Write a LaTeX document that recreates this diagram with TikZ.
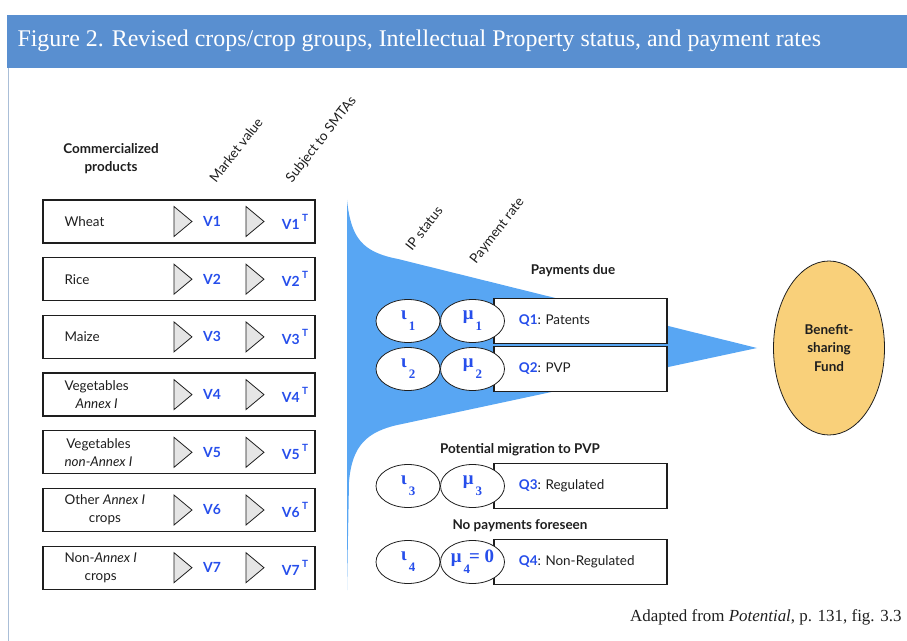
\documentclass[tikz,border=0pt]{standalone}
\usepackage{fontspec}
\setmainfont{Liberation Serif}
\newfontfamily\gill{Lato}
\usetikzlibrary{positioning,shapes.geometric}

\definecolor{barblue}{RGB}{89,143,208}
\definecolor{funnelblue}{RGB}{88,166,243}
\definecolor{valblue}{RGB}{38,78,235}
\definecolor{fundfill}{RGB}{249,208,122}
\definecolor{framegray}{RGB}{170,190,215}
\definecolor{ink}{RGB}{30,30,30}

\newcommand{\lowsub}[1]{\raisebox{-1.3ex}{\fontsize{13}{13}\selectfont\,#1}}

\begin{document}
\begin{tikzpicture}[
x=1bp, y=-1bp,
font=\gill\fontsize{13.5}{18}\selectfont,
text=ink,
cropbox/.style={
draw=ink,
line width=1.3pt,
minimum width=272bp,
minimum height=43bp,
inner sep=0pt
},
tri/.style={
draw=ink,
thick,
fill=gray!20,
isosceles triangle,
isosceles triangle stretches,
minimum width=30bp,
minimum height=18bp,
inner sep=0pt
},
val/.style={
text=valblue,
font=\gill\bfseries\fontsize{14}{16}\selectfont
},
head/.style={
align=center,
font=\gill\bfseries\fontsize{13.5}{18}\selectfont
},
slant/.style={
rotate=52,
anchor=base west,
font=\gill\fontsize{13.5}{15}\selectfont
},
qbox/.style={
draw=ink,
line width=1.2pt,
fill=white,
minimum width=173bp,
minimum height=45bp,
inner sep=0pt
},
oval/.style={
draw=ink,
thick,
fill=white,
ellipse,
minimum width=64bp,
minimum height=43bp,
inner sep=0pt,
text=valblue,
font=\rmfamily\bfseries\fontsize{19}{20}\selectfont
}
]
\useasboundingbox (0,0) rectangle (907,641);

%%%%%%%%%%%%%%%%%%%%%%%%%%%%%%%%%%%%%%%%%%%%%
% Title bar and frame
%%%%%%%%%%%%%%%%%%%%%%%%%%%%%%%%%%%%%%%%%%%%%

\fill[barblue] (7,15) rectangle (907,68);
\draw[framegray] (8,68) -- (8,641);

\node[anchor=west, text=white, font=\rmfamily\fontsize{24}{26}\selectfont] (title)
at (14,41) {Figure 2. Revised crops/crop groups, Intellectual Property status, and payment rates};

%%%%%%%%%%%%%%%%%%%%%%%%%%%%%%%%%%%%%%%%%%%%%
% Funnel
%%%%%%%%%%%%%%%%%%%%%%%%%%%%%%%%%%%%%%%%%%%%%

\fill[funnelblue] (347,200) .. controls (351,238) and (362,252) .. (398,259)
-- (757,348) -- (402,424)
.. controls (366,431) and (352,446) .. (349,482) -- (347,590) -- cycle;

%%%%%%%%%%%%%%%%%%%%%%%%%%%%%%%%%%%%%%%%%%%%%
% Crops
%%%%%%%%%%%%%%%%%%%%%%%%%%%%%%%%%%%%%%%%%%%%%

\node[head] (prod) at (111,159) {Commercialized\\products};
\node[slant] (mkt) at (214,186) {Market value};
\node[slant] (smta) at (290,186) {Subject to SMTAs};

\foreach \i/\lab [evaluate=\i as \yy using 221.5+(\i-1)*57.7] in
{1/{Wheat},
2/{Rice},
3/{Maize},
4/{Vegetables\\\textit{Annex I}},
5/{Vegetables\\\textit{non-Annex I}},
6/{Other \textit{Annex I}\\crops},
7/{Non-\textit{Annex I}\\crops}}
{
\node[cropbox] (c\i) at (179,\yy) {};
\node[anchor=west, align=center] (n\i) at (61,\yy) {\lab};
\node[tri] (m\i) at (181,\yy) {};
\node[val] (v\i) at (212,\yy) {V\i};
\node[tri] (s\i) at (253,\yy) {};
\node[val] (t\i) at (295,\yy) {V\i\,\raisebox{1.1ex}{\fontsize{10}{10}\selectfont T}};
}

%%%%%%%%%%%%%%%%%%%%%%%%%%%%%%%%%%%%%%%%%%%%%
% IP status and payment rate
%%%%%%%%%%%%%%%%%%%%%%%%%%%%%%%%%%%%%%%%%%%%%

\node[slant] (ip) at (410,254) {IP status};
\node[slant] (rate) at (474,267) {Payment rate};
\node[head] (due) at (573,271) {Payments due};
\node[head] (mig) at (520,450) {Potential migration to PVP};
\node[head] (none) at (520,526) {No payments foreseen};

\foreach \i/\yy/\q/\txt/\rate in
{1/321/Q1/Patents/{μ\lowsub{1}},
2/369/Q2/PVP/{μ\lowsub{2}},
3/486/Q3/Regulated/{μ\lowsub{3}},
4/562/Q4/Non-Regulated/{μ\lowsub{4}\kern-1pt= 0}}
{
\node[qbox] (b\i) at (580.5,\yy) {};
\node[anchor=west] (q\i) at ([xshift=22bp]b\i.west)
{\textcolor{valblue}{\bfseries\q}: \txt};
\node[oval] (iota\i) at (408,\yy) {ι\lowsub{\i}};
\node[oval] (mu\i) at (472.5,\yy) {\rate};
}

%%%%%%%%%%%%%%%%%%%%%%%%%%%%%%%%%%%%%%%%%%%%%
% Fund and source
%%%%%%%%%%%%%%%%%%%%%%%%%%%%%%%%%%%%%%%%%%%%%

\node[draw=ink, thick, ellipse, fill=fundfill, minimum width=111bp, minimum height=174bp,
align=center, font=\gill\bfseries\fontsize{13.5}{19}\selectfont] (fund)
at (829,348) {Benefit-\\sharing\\Fund};

\node[anchor=base east, font=\rmfamily\fontsize{17}{20}\selectfont] (src)
at (905,621) {Adapted from \textit{Potential}, p. 131, fig. 3.3};

\end{tikzpicture}
\end{document}
